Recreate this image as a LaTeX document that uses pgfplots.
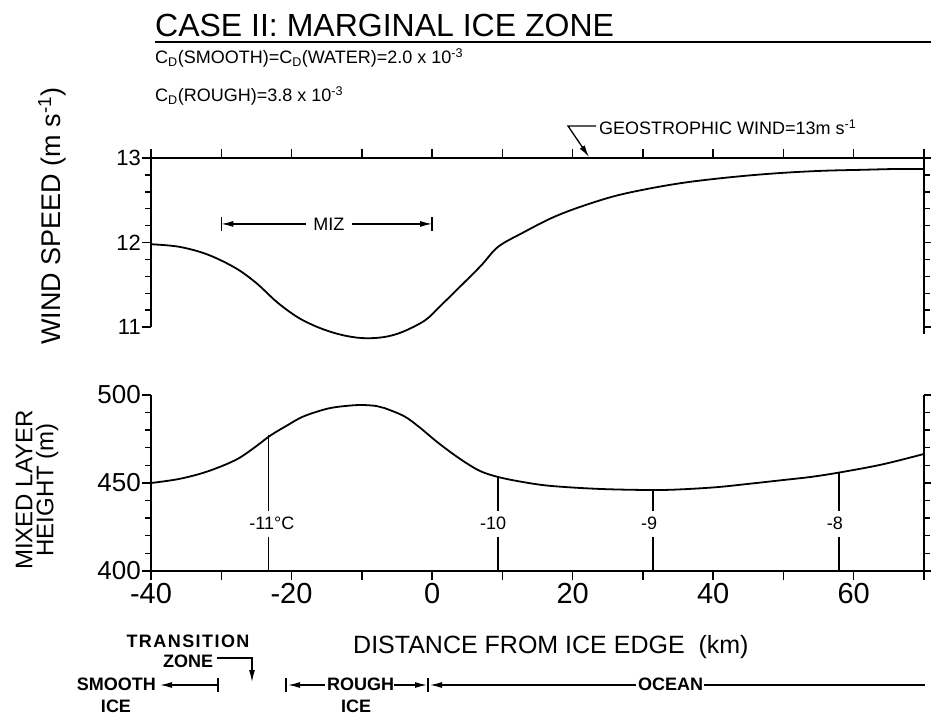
\documentclass[border=0pt]{standalone}
\usepackage{fontspec}
\setmainfont{Liberation Sans}
\usepackage{pgfplots}
\pgfplotsset{compat=1.18}
\usetikzlibrary{arrows.meta}
\newcommand{\fs}[1]{\fontsize{#1}{#1}\selectfont}
\tikzset{arr/.style={line width=1.3pt,-{Latex[length=12pt,width=6pt]}}}
\begin{document}
\begin{tikzpicture}
\path[use as bounding box] (0pt,0pt) rectangle (931pt,715pt);

% ---------- top panel: wind speed ----------
\begin{axis}[
  at={(151pt,371pt)}, anchor=south west, scale only axis,
  width=773pt, height=186pt,
  xmin=-40, xmax=70, ymin=10.8, ymax=13,
  clip=false,
  axis line style={draw=none},
  tick align=outside,
  xtick={-40,-30,...,70}, xtick pos=right, xticklabels={},
  ytick={11,12,13}, yticklabels={11,12,13},
  minor ytick={11,11.2,...,13.01},
  ytick pos=both, yticklabel pos=left,
  major tick length=9pt, minor tick length=6pt,
  every tick/.style={black, line width=1.4pt},
  yticklabel style={font=\fs{22}, inner sep=1pt},
]
\addplot[line width=1.8pt, smooth, tension=0.55] coordinates {
(-40,11.98) (-36,11.95) (-32,11.86) (-28,11.70) (-25,11.52) (-22,11.29)
(-19,11.11) (-16,10.99) (-13,10.91) (-10,10.87) (-7,10.88) (-4.3,10.94)
(-1,11.08) (1.3,11.26) (4,11.48) (7,11.73) (9.4,11.95) (13,12.12)
(17,12.29) (21,12.42) (26,12.55) (31,12.64) (36,12.71) (41,12.76)
(46,12.80) (51,12.83) (56,12.85) (61,12.86) (66,12.87) (70,12.87)};
\draw[line width=1.8pt] (axis cs:-40,11) -- (axis cs:-40,13) -- (axis cs:71,13);
\draw[line width=1.8pt] (axis cs:70,13) -- (axis cs:70,10.92);
% MIZ
\draw[arr] (axis cs:-18,12.22) -- (axis cs:-30,12.22);
\draw[arr] (axis cs:-11.4,12.22) -- (axis cs:0,12.22);
\draw[line width=1.3pt] (axis cs:-30,12.14) -- (axis cs:-30,12.30);
\draw[line width=1.3pt] (axis cs:0,12.14) -- (axis cs:0,12.30);
\node[font=\fs{18}, inner sep=0pt] at (axis cs:-14.7,12.22) {MIZ};
\end{axis}

% ---------- bottom panel: mixed layer height ----------
\begin{axis}[
  at={(151pt,144pt)}, anchor=south west, scale only axis,
  width=773pt, height=176pt,
  xmin=-40, xmax=70, ymin=400, ymax=500,
  clip=false,
  axis line style={draw=none},
  tick align=outside,
  xtick={-40,-30,...,70}, xtick pos=left,
  xticklabels={-40,,-20,,0,,20,,40,,60,},
  ytick={400,450,500}, yticklabels={400,450,500},
  minor ytick={400,410,...,500},
  ytick pos=both, yticklabel pos=left,
  major tick length=9pt, minor tick length=6pt,
  every tick/.style={black, line width=1.4pt},
  xticklabel style={font=\fs{29}, inner sep=3pt},
  yticklabel style={font=\fs{26}, inner sep=1pt},
]
\addplot[line width=1.8pt, smooth, tension=0.55] coordinates {
(-40,450) (-36,452.3) (-32,456.5) (-28,463) (-25.5,469.5) (-23,477)
(-20.5,483) (-18.5,487.5) (-16,491) (-13.9,493) (-10.5,494.3) (-8,493.8)
(-6.8,492.6) (-4,488) (-1.9,482) (0.5,474) (2.8,467) (5,461) (7,456.5)
(9.5,453.3) (13,450.5) (17,448.3) (24,446.6) (31.6,446) (36,446.5)
(40.7,447.7) (45,449.5) (50,451.7) (54,453.5) (58,456) (64,460.5) (70,466.5)};
% isotherm lines, broken around their labels
\addplot[line width=1.7pt] coordinates {(-23.3,477.5) (-23.3,434)};
\addplot[line width=1.7pt] coordinates {(-23.3,419.5) (-23.3,400)};
\addplot[line width=1.7pt] coordinates {(9.4,453.4) (9.4,434)};
\addplot[line width=1.7pt] coordinates {(9.4,419.5) (9.4,400)};
\addplot[line width=1.7pt] coordinates {(31.4,446) (31.4,434)};
\addplot[line width=1.7pt] coordinates {(31.4,419.5) (31.4,400)};
\addplot[line width=1.7pt] coordinates {(57.9,456) (57.9,434)};
\addplot[line width=1.7pt] coordinates {(57.9,419.5) (57.9,400)};
\draw[line width=1.8pt] (axis cs:-40,500) -- (axis cs:-40,400) -- (axis cs:70,400) -- (axis cs:70,500);
\node[font=\fs{18}, inner sep=0pt] at (axis cs:-22.8,427) {-11°C};
\node[font=\fs{18}, inner sep=0pt] at (axis cs:8.7,427) {-10};
\node[font=\fs{18}, inner sep=0pt] at (axis cs:30.9,427) {-9};
\node[font=\fs{18}, inner sep=0pt] at (axis cs:57.3,427) {-8};
\end{axis}

% ---------- texts ----------
\begin{scope}[x=1pt,y=1pt]
\node[anchor=base west, font=\fs{32}, inner sep=0pt] at (155,678) {CASE II: MARGINAL ICE ZONE};
\draw[line width=1.3pt] (155,673) -- (931,673);
\node[anchor=base west, font=\fs{18}, inner sep=0pt] at (155,651)
  {C\textsubscript{D}(SMOOTH)=C\textsubscript{D}(WATER)=2.0 x 10\textsuperscript{-3}};
\node[anchor=base west, font=\fs{18}, inner sep=0pt] at (155,613)
  {C\textsubscript{D}(ROUGH)=3.8 x 10\textsuperscript{-3}};
\node[anchor=base west, font=\fs{18}, inner sep=0pt] at (599,580)
  {GEOSTROPHIC WIND=13m s\textsuperscript{-1}};
\draw[line width=1.3pt,-{Latex[length=12pt,width=6pt]}] (596,589) -- (568,589) -- (589,558);

% y labels
\node[rotate=90, font=\fs{27}, inner sep=0pt] at (52,499) {WIND SPEED (m s\textsuperscript{-1})};
\node[rotate=90, font=\fontsize{24}{21}\selectfont, align=center, inner sep=0pt] at (37,225)
  {MIXED LAYER\\HEIGHT (m)};

% x label
\node[anchor=base west, font=\fs{25}, inner sep=0pt] at (353,62) {DISTANCE FROM ICE EDGE \ (km)};

% zone annotations
\node[anchor=base, font=\bfseries\fs{18}\addfontfeature{LetterSpace=8}, inner sep=0pt] at (188,68) {TRANSITION};
\node[anchor=base west, font=\bfseries\fs{18}, inner sep=0pt] at (163,48) {ZONE};
\draw[line width=1.3pt,-{Latex[length=12pt,width=6pt]}] (217,57) -- (252,57) -- (252,33);
\node[anchor=base east, font=\bfseries\fs{18}, inner sep=0pt] at (156,25) {SMOOTH};
\node[anchor=base, font=\bfseries\fs{18}, inner sep=0pt] at (116,3) {ICE};
\draw[arr] (218,30) -- (160,30);
\draw[line width=1.3pt] (218,23) -- (218,37);
\draw[line width=1.3pt] (286,23) -- (286,37);
\draw[arr] (325,30) -- (288,30);
\node[anchor=base west, font=\bfseries\fs{18}, inner sep=0pt] at (327,25) {ROUGH};
\node[anchor=base, font=\bfseries\fs{18}, inner sep=0pt] at (356,3) {ICE};
\draw[arr] (394,30) -- (427,30);
\draw[line width=1.3pt] (428,23) -- (428,37);
\draw[arr] (636,30) -- (430,30);
\node[anchor=base west, font=\bfseries\fs{18}, inner sep=0pt] at (638,25) {OCEAN};
\draw[line width=1.3pt] (704,30) -- (925,30);
\end{scope}
\end{tikzpicture}
\end{document}
